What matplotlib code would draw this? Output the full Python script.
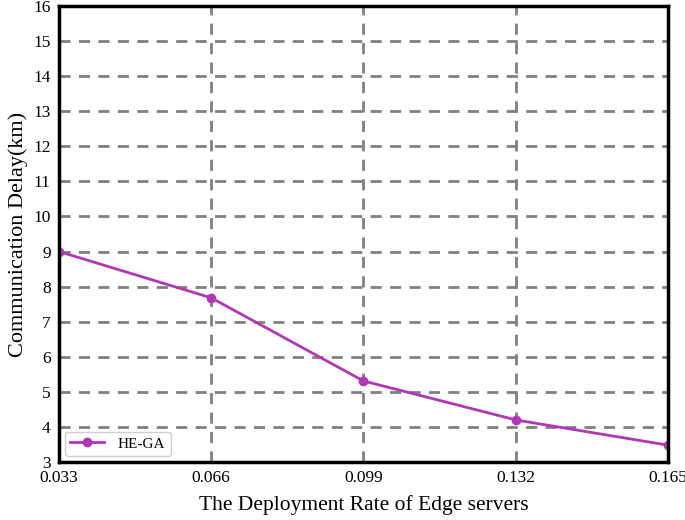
import matplotlib
matplotlib.use("Agg")
import matplotlib.pyplot as plt

x_vals = [0.033, 0.066, 0.099, 0.132, 0.165]
he_ga = [9.0, 7.68, 5.31, 4.2, 3.48]
x_ticks = [0.033, 0.066, 0.099, 0.132, 0.165]
y_ticks = list(range(3, 17))

plt.rcParams['font.family'] = ['Liberation Serif', 'DejaVu Serif']

fig = plt.figure(figsize=(6.85, 5.2), dpi=100)
ax = fig.add_axes([59/685, 1-462/520, (668-59)/685, (462-6)/520])

ax.plot(x_vals, he_ga, color='#b237b5', lw=2, marker='o', ms=6, label='HE-GA', zorder=3)

ax.set_xlim(0.033, 0.165)
ax.set_ylim(3, 16)
ax.set_xticks(x_ticks)
ax.set_xticklabels([f"{v:.3f}" for v in x_ticks])
ax.set_yticks(y_ticks)
ax.tick_params(length=0, labelsize=12.5, pad=6)
ax.grid(True, linestyle=(0, (4, 3)), color='#808080', lw=2)
for s in ax.spines.values():
    s.set_linewidth(2.5)
    s.set_zorder(4)

ax.set_xlabel('The Deployment Rate of Edge servers', fontsize=15.5, labelpad=6)
ax.set_ylabel('Communication Delay(km)', fontsize=16, labelpad=4)
leg = ax.legend(loc='lower left', fontsize=11, fancybox=True, framealpha=1,
                edgecolor='#d0d0d0', borderpad=0.35, handlelength=2.2,
                handletextpad=0.9, borderaxespad=0.4)

fig.savefig('out.png', dpi=100)
